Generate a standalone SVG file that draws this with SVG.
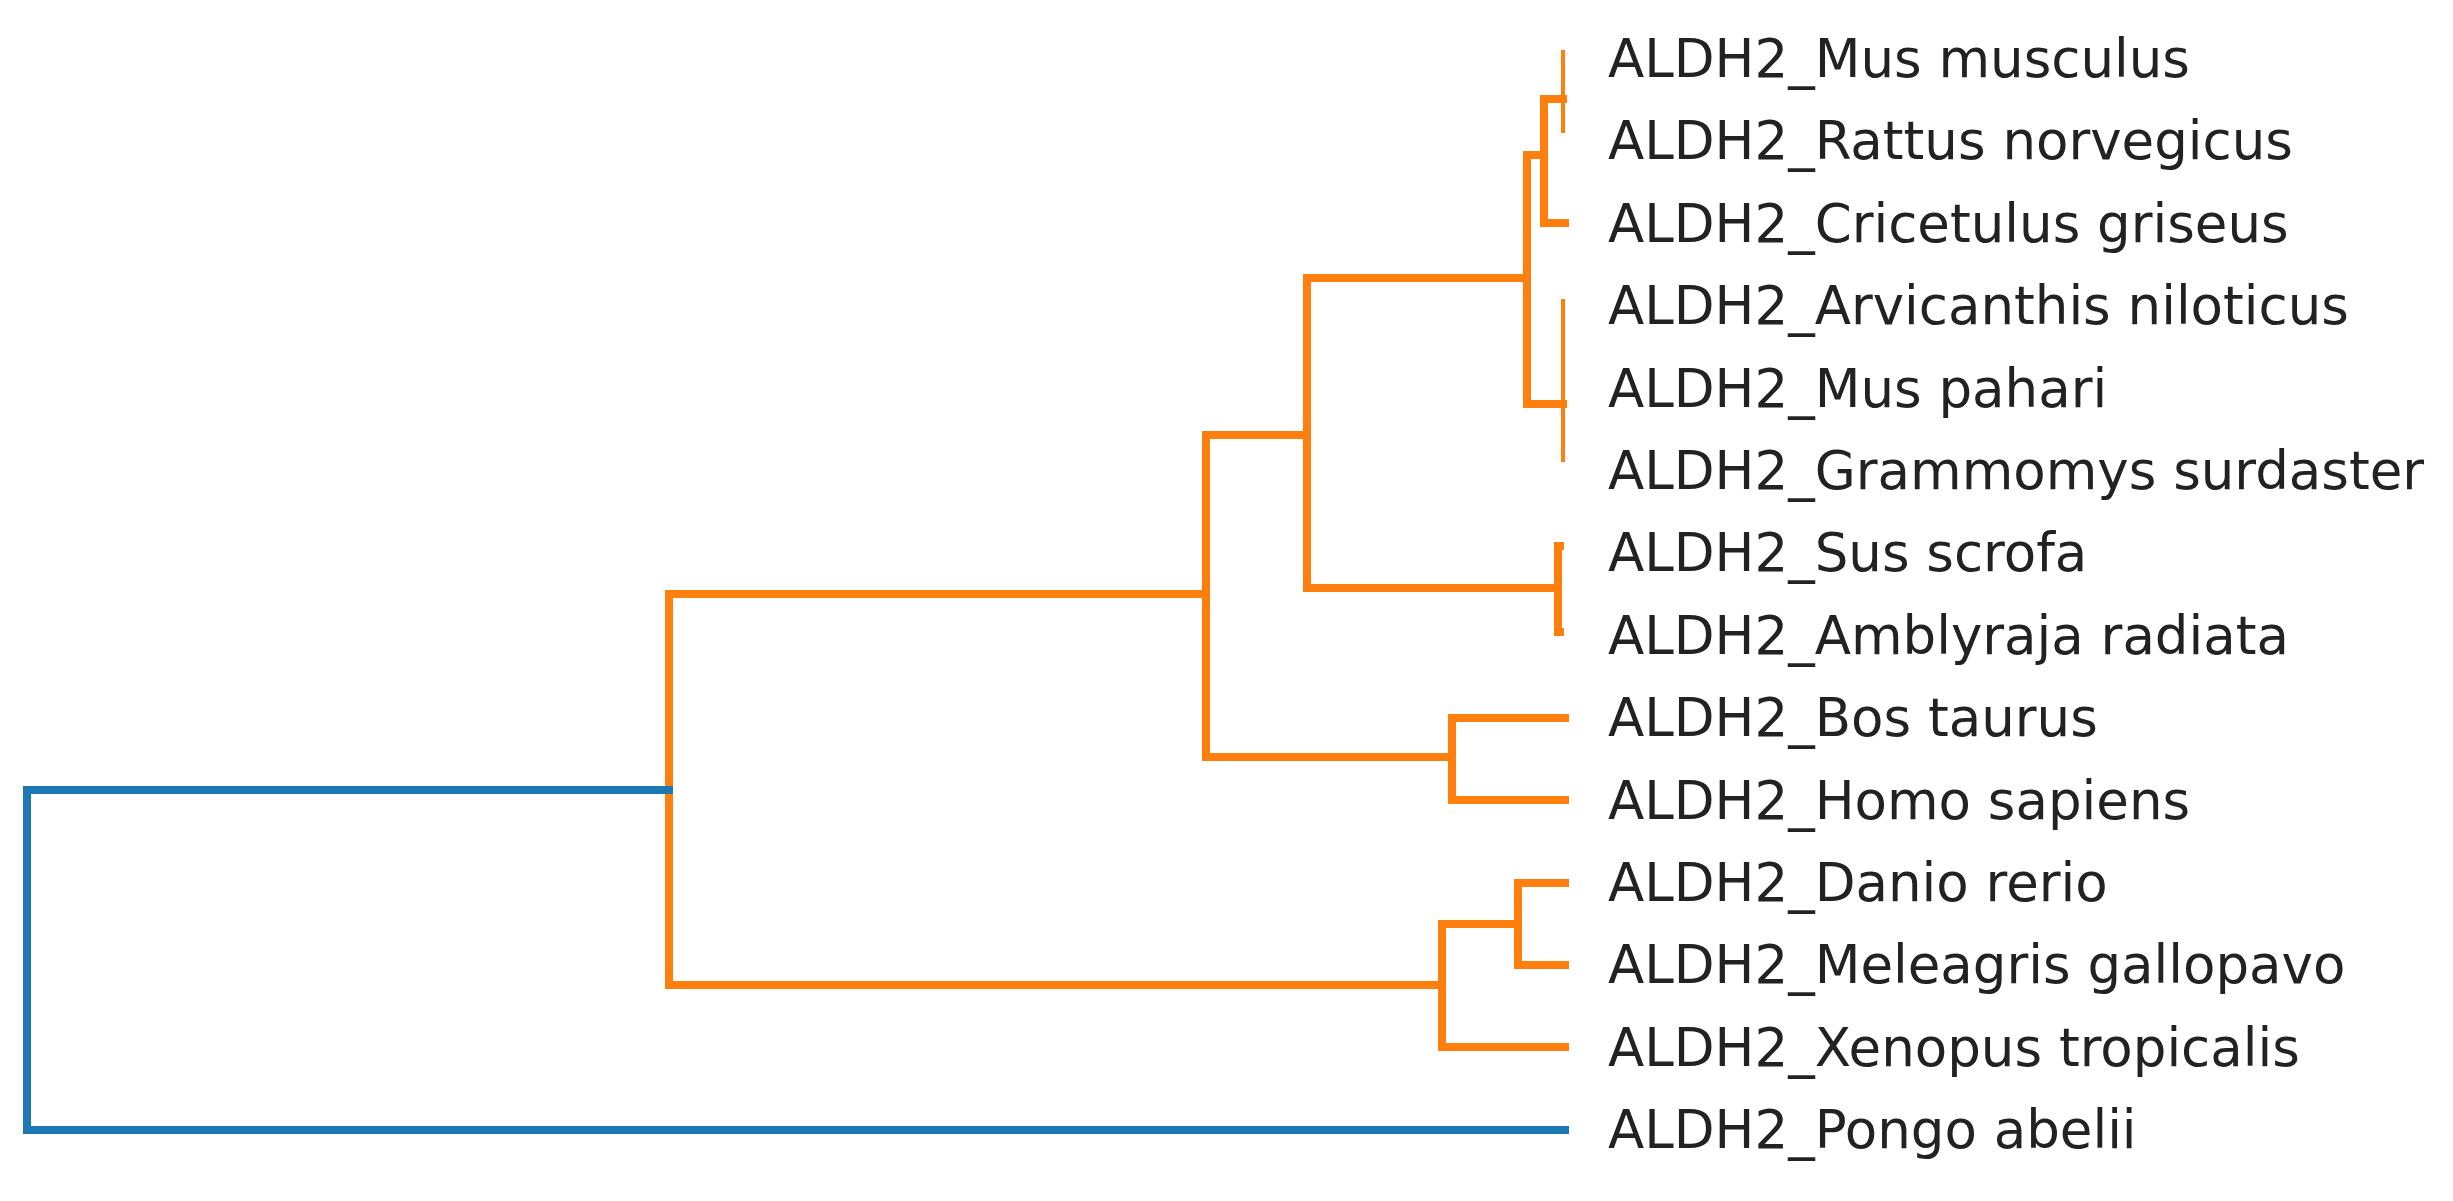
<svg xmlns="http://www.w3.org/2000/svg" width="2453" height="1201" viewBox="0 0 2453 1201">
<style>
.o{fill:none;stroke:#ff7f0e;stroke-width:8;stroke-linejoin:miter;stroke-linecap:square}
.t{fill:none;stroke:#ff7f0e;stroke-width:4}
.b{fill:none;stroke:#1f77b4;stroke-width:8;stroke-linecap:square}
text{font-family:"DejaVu Sans",sans-serif;font-size:53px;fill:#222}
</style>
<rect width="2453" height="1201" fill="#fff"/>
<g id="connectors">
<path class="t" d="M1563 50V133"/>
<path class="o" d="M1563 99H1544V223H1565"/>
<path class="t" d="M1563 299V462"/>
<path class="o" d="M1544 155H1527V404H1563"/>
<path class="o" d="M1527 278H1307V588H1558"/>
<path class="o" d="M1560 546H1558V632H1560"/>
<path class="o" d="M1307 435H1206V757H1452"/>
<path class="o" d="M1565 718H1452V800H1565"/>
<path class="o" d="M1206 594H669V985H1442"/>
<path class="o" d="M1565 883H1518V965H1565"/>
<path class="o" d="M1518 924H1442V1047H1565"/>
<path class="b" d="M669 790H27V1130H1565"/>
</g>
<g id="n0"><text x="1608" y="77">ALDH2_Mus musculus</text></g>
<g id="n1"><text x="1608" y="159">ALDH2_Rattus norvegicus</text></g>
<g id="n2"><text x="1608" y="242">ALDH2_Cricetulus griseus</text></g>
<g id="n3"><text x="1608" y="324">ALDH2_Arvicanthis niloticus</text></g>
<g id="n4"><text x="1608" y="407">ALDH2_Mus pahari</text></g>
<g id="n5"><text x="1608" y="489">ALDH2_Grammomys surdaster</text></g>
<g id="n6"><text x="1608" y="571">ALDH2_Sus scrofa</text></g>
<g id="n7"><text x="1608" y="654">ALDH2_Amblyraja radiata</text></g>
<g id="n8"><text x="1608" y="736">ALDH2_Bos taurus</text></g>
<g id="n9"><text x="1608" y="819">ALDH2_Homo sapiens</text></g>
<g id="n10"><text x="1608" y="901">ALDH2_Danio rerio</text></g>
<g id="n11"><text x="1608" y="983">ALDH2_Meleagris gallopavo</text></g>
<g id="n12"><text x="1608" y="1066">ALDH2_Xenopus tropicalis</text></g>
<g id="n13"><text x="1608" y="1148">ALDH2_Pongo abelii</text></g>
</svg>
